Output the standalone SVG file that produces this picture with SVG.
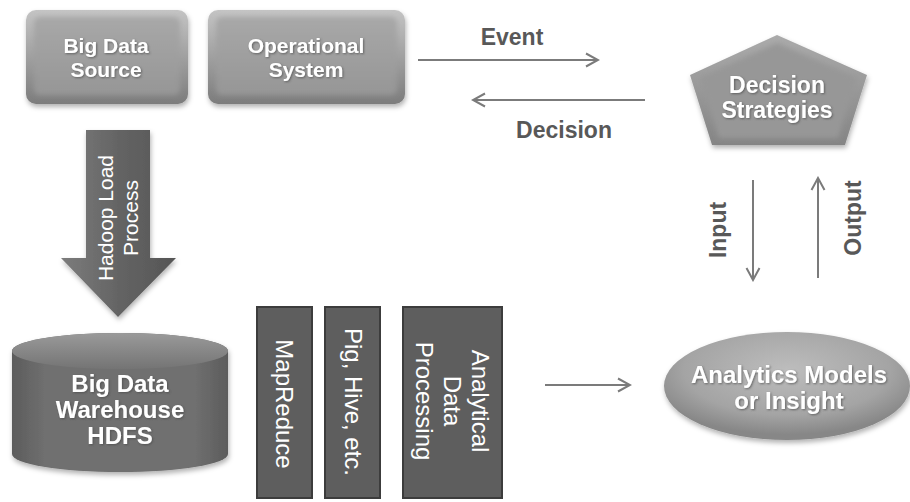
<svg xmlns="http://www.w3.org/2000/svg" width="910" height="502" viewBox="0 0 910 502">
  <style>
    text { font-family: "Liberation Sans", Arial, sans-serif; }
    .lt { fill: #ffffff; font-weight: bold; text-anchor: middle; filter: url(#tshadow); }
    .dk { fill: #ffffff; font-size: 24px; text-anchor: middle; }
    .lbl { fill: #585858; font-weight: bold; font-size: 23px; text-anchor: middle; }
    .conn { stroke: #7b7b7b; stroke-width: 2; fill: none; marker-end: url(#chev); }
    .bar { fill: #5e5e5e; stroke: #3c3c3c; stroke-width: 2; }
  </style>
  <defs>
    <linearGradient id="gBox" x1="0" y1="0" x2="0" y2="1">
      <stop offset="0" stop-color="#c4c4c4"/>
      <stop offset="1" stop-color="#7c7c7c"/>
    </linearGradient>
    <linearGradient id="gFace" x1="0" y1="0" x2="0" y2="1">
      <stop offset="0" stop-color="#a8a8a8"/>
      <stop offset="1" stop-color="#969696"/>
    </linearGradient>
    <linearGradient id="gPent" x1="0" y1="0" x2="0" y2="1">
      <stop offset="0" stop-color="#ababab"/>
      <stop offset="1" stop-color="#858585"/>
    </linearGradient>
    <linearGradient id="gCylBody" x1="0" y1="0" x2="1" y2="0">
      <stop offset="0" stop-color="#5c5c5c"/>
      <stop offset="0.15" stop-color="#6f6f6f"/>
      <stop offset="0.85" stop-color="#6f6f6f"/>
      <stop offset="1" stop-color="#5c5c5c"/>
    </linearGradient>
    <linearGradient id="gCylTop" x1="0" y1="0" x2="0" y2="1">
      <stop offset="0" stop-color="#9a9a9a"/>
      <stop offset="1" stop-color="#747474"/>
    </linearGradient>
    <linearGradient id="gArrow" x1="0" y1="0" x2="1" y2="0">
      <stop offset="0" stop-color="#7c7c7c"/>
      <stop offset="0.5" stop-color="#646464"/>
      <stop offset="1" stop-color="#555555"/>
    </linearGradient>
    <radialGradient id="gEll" cx="0.5" cy="0.35" r="0.6">
      <stop offset="0" stop-color="#bdbdbd"/>
      <stop offset="0.7" stop-color="#a4a4a4"/>
      <stop offset="1" stop-color="#878787"/>
    </radialGradient>
    <filter id="soft" x="-10%" y="-10%" width="120%" height="120%">
      <feGaussianBlur stdDeviation="2.5"/>
    </filter>
    <filter id="shadow" x="-10%" y="-10%" width="130%" height="140%">
      <feDropShadow dx="1" dy="3" stdDeviation="2.5" flood-color="#000000" flood-opacity="0.3"/>
    </filter>
    <filter id="tshadow" x="-10%" y="-20%" width="130%" height="150%">
      <feDropShadow dx="1" dy="1" stdDeviation="0.8" flood-color="#444444" flood-opacity="0.7"/>
    </filter>
    <marker id="chev" markerUnits="userSpaceOnUse" markerWidth="16" markerHeight="16" viewBox="0 0 16 16" refX="14" refY="8" orient="auto">
      <path d="M2,1.5 L14,8 L2,14.5" fill="none" stroke="#7b7b7b" stroke-width="2"/>
    </marker>
  </defs>

  <rect width="910" height="502" fill="#ffffff"/>

  <!-- source box -->
  <g id="big-data-source">
    <rect x="26" y="10" width="162" height="94" rx="10" fill="url(#gBox)" filter="url(#shadow)"/>
    <rect x="34" y="17" width="146" height="78" rx="6" fill="url(#gFace)" filter="url(#soft)"/>
    <text class="lt" x="106" y="53" font-size="21">Big Data</text>
    <text class="lt" x="106" y="77" font-size="21">Source</text>
  </g>

  <!-- operational system box -->
  <g id="operational-system">
    <rect x="208" y="10" width="197" height="94" rx="10" fill="url(#gBox)" filter="url(#shadow)"/>
    <rect x="216" y="17" width="181" height="78" rx="6" fill="url(#gFace)" filter="url(#soft)"/>
    <text class="lt" x="306" y="53" font-size="21">Operational</text>
    <text class="lt" x="306" y="77" font-size="21">System</text>
  </g>

  <!-- decision strategies pentagon -->
  <g id="decision-strategies">
    <polygon points="777,35 867,75 845,145 712,145 690,75" fill="url(#gPent)" filter="url(#shadow)"/>
    <polygon points="777,43 857,78 838,138 719,138 700,78" fill="#979797" filter="url(#soft)"/>
    <text class="lt" x="777" y="93" font-size="23">Decision</text>
    <text class="lt" x="777" y="118" font-size="23">Strategies</text>
  </g>

  <!-- hadoop load block arrow -->
  <g id="hadoop-load">
    <polygon points="86,130 150,130 150,258 176,258 118,317 61,258 86,258" fill="url(#gArrow)" filter="url(#shadow)"/>
    <text transform="translate(113,218) rotate(-90)" fill="#ffffff" font-size="21" text-anchor="middle">Hadoop Load</text>
    <text transform="translate(138,218) rotate(-90)" fill="#ffffff" font-size="21" text-anchor="middle">Process</text>
  </g>

  <!-- warehouse cylinder -->
  <g id="big-data-warehouse">
    <path d="M12,351 L12,454 A108,18 0 0 0 228,454 L228,351 A108,18 0 0 0 12,351 Z" fill="url(#gCylBody)" filter="url(#shadow)"/>
    <ellipse cx="120" cy="351" rx="108" ry="18" fill="url(#gCylTop)"/>
    <text class="lt" x="120" y="392" font-size="24">Big Data</text>
    <text class="lt" x="120" y="418" font-size="24">Warehouse</text>
    <text class="lt" x="120" y="444" font-size="24">HDFS</text>
  </g>

  <!-- processing bars -->
  <g id="mapreduce">
    <rect class="bar" x="257" y="307" width="55" height="191"/>
    <text class="dk" transform="translate(276,404) rotate(90)">MapReduce</text>
  </g>
  <g id="pig-hive">
    <rect class="bar" x="325" y="307" width="55" height="191"/>
    <text class="dk" transform="translate(345,402) rotate(90)">Pig, Hive, etc.</text>
  </g>
  <g id="analytical-processing">
    <rect class="bar" x="403" y="307" width="99" height="191"/>
    <text class="dk" transform="translate(472,401) rotate(90)">Analytical</text>
    <text class="dk" transform="translate(444,401) rotate(90)">Data</text>
    <text class="dk" transform="translate(416,401) rotate(90)">Processing</text>
  </g>

  <!-- analytics ellipse -->
  <g id="analytics-models">
    <ellipse cx="787" cy="386" rx="123" ry="54" fill="url(#gEll)" filter="url(#shadow)"/>
    <text class="lt" x="789" y="383" font-size="24">Analytics Models</text>
    <text class="lt" x="789" y="409" font-size="24">or Insight</text>
  </g>

  <!-- connectors -->
  <g id="connectors">
    <line class="conn" x1="418" y1="60" x2="598" y2="60"/>
    <line class="conn" x1="645" y1="100" x2="473" y2="100"/>
    <line class="conn" x1="753" y1="180" x2="753" y2="280"/>
    <line class="conn" x1="818" y1="278" x2="818" y2="178"/>
    <line class="conn" x1="545" y1="385" x2="630" y2="385"/>
    <text class="lbl" x="512" y="45">Event</text>
    <text class="lbl" x="564" y="138">Decision</text>
    <text class="lbl" transform="translate(726,230) rotate(-90)">Input</text>
    <text class="lbl" transform="translate(861,218) rotate(-90)">Output</text>
  </g>
</svg>
